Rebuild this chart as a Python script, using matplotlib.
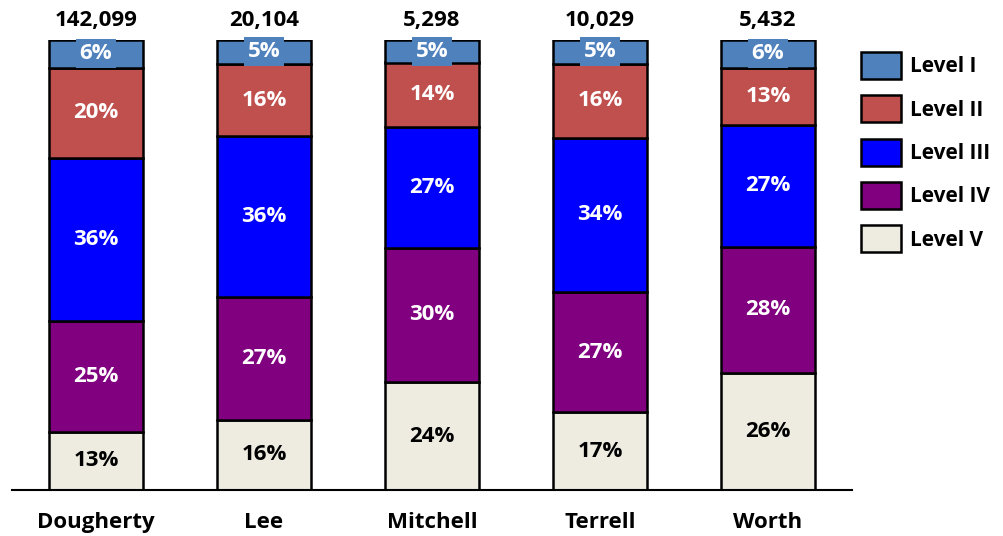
import matplotlib.pyplot as plt
import numpy as np

plt.rcParams['font.family'] = ['Open Sans', 'DejaVu Sans']
plt.rcParams['font.weight'] = 'bold'

counties = ['Dougherty', 'Lee', 'Mitchell', 'Terrell', 'Worth']
totals = [142099, 20104, 5298, 10029, 5432]
levels = ['Level I', 'Level II', 'Level III', 'Level IV', 'Level V']
colors = ['#4F81BD', '#C0504D', '#0000FF', '#800080', '#EEECE1']

# percent share of each level per county (Level I on top)
level_1 = [6.2, 5.3, 5.0, 5.3, 6.2]
level_2 = [20.0, 16.1, 14.4, 16.4, 12.6]
level_3 = [36.3, 35.8, 26.8, 34.3, 27.1]
level_4 = [24.6, 27.2, 29.8, 26.7, 28.0]
level_5 = [12.9, 15.6, 24.0, 17.3, 26.1]

shares = np.array([level_1, level_2, level_3, level_4, level_5])
shares = shares / shares.sum(axis=0) * 100

fig = plt.figure(figsize=(10.04, 5.36), dpi=100)
ax = fig.add_axes([12 / 1004, 46 / 536, 840 / 1004, 450 / 536])

x = np.arange(len(counties))
width = 0.56
bottom = np.zeros(len(counties))
# stack from Level V (bottom) up to Level I
for i in reversed(range(len(levels))):
    vals = shares[i]
    ax.bar(x, vals, width, bottom=bottom, color=colors[i], edgecolor='black',
           linewidth=1.8, label=levels[i], zorder=2)
    for j in range(len(counties)):
        txt_color = 'black' if i == 4 else 'white'
        bbox = None
        if i == 0:
            bbox = dict(boxstyle='square,pad=0.18', facecolor=colors[0], edgecolor='none')
        ax.text(x[j], bottom[j] + vals[j] / 2, f'{round(vals[j]):d}%', ha='center', va='center',
                color=txt_color, fontsize=16, fontweight='bold', bbox=bbox, zorder=4)
    bottom += vals

for j in range(len(counties)):
    ax.text(x[j], 102.0, f'{totals[j]:,}', ha='center', va='bottom', fontsize=16,
            fontweight='bold', color='black', clip_on=False)

ax.set_xlim(-0.5, 4.5)
ax.set_ylim(0, 100)
for s in ['top', 'right', 'left']:
    ax.spines[s].set_visible(False)
ax.spines['bottom'].set_linewidth(1.5)
ax.set_yticks([])
ax.set_xticks(x)
ax.set_xticklabels(counties, fontsize=16, fontweight='bold')
ax.tick_params(axis='x', length=0, pad=16)

handles, labels = ax.get_legend_handles_labels()
fig.legend(handles[::-1], labels[::-1], loc='upper left',
           bbox_to_anchor=(861 / 1004, 1 - 52 / 536), bbox_transform=fig.transFigure,
           frameon=False, fontsize=15, handlelength=1.92, handleheight=1.62,
           labelspacing=0.78, handletextpad=0.45, borderpad=0, borderaxespad=0)

fig.savefig('out.png', dpi=100)
